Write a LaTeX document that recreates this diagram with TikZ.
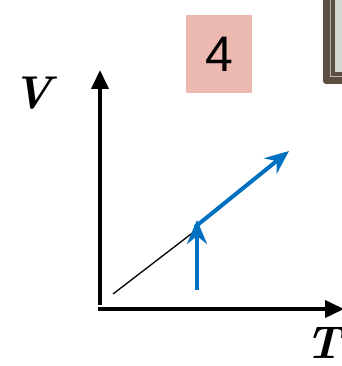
\documentclass[tikz,border=0pt]{standalone}
\usepackage{fontspec}
\usetikzlibrary{arrows.meta}
\newfontfamily\labelsans{Liberation Sans}
\definecolor{pinkbox}{HTML}{EBB9B0}
\definecolor{bluearr}{HTML}{0070C0}
\definecolor{framebrown}{HTML}{5C4E40}
\definecolor{framegray}{HTML}{D3D7D2}
\definecolor{framelight}{HTML}{B8B4AC}
\tikzset{
  axis/.style={line width=3.8pt, -{Triangle[length=19pt,width=17pt]}},
  bluevec/.style={bluearr, line width=4pt, -{Stealth[length=24pt,width=20pt,inset=8pt]}},
  axlabel/.style={font=\bfseries\itshape\fontsize{46}{46}\selectfont, inner sep=0pt},
}
\begin{document}
\begin{tikzpicture}[x=1pt,y=1pt]
\useasboundingbox (0,0) rectangle (341,366);
% frame at top right (cut off)
\fill[framebrown, rounded corners=3pt] (323,282) rectangle (370,375);
\draw[framelight, line width=0.8pt] (330.5,289.5) rectangle (370,375);
\fill[framebrown] (332,291) rectangle (370,375);
\fill[framegray] (335,294) rectangle (370,375);
% pink label box
\node[fill=pinkbox, minimum width=66pt, minimum height=78pt, inner sep=0pt, font=\labelsans\fontsize{50}{50}\selectfont] (num) at (219,312) {4};
% axes
\coordinate (Ytop) at (100,296);
\coordinate (Xend) at (344,57);
\draw[axis] (100,61) -- (Ytop);
\draw[axis] (98,57) -- (Xend);
\node[axlabel] (V) at (32,272.5) {V};
\node[axlabel] (T) at (324,23.5) {T};
% black line
\coordinate (L0) at (113,72);
\coordinate (L1) at (195,135);
\draw[line width=1.3pt] (L0) -- (L1);
% blue arrows
\coordinate (B0) at (197,76);
\coordinate (B1) at (197,146);
\coordinate (B2) at (289,215);
\draw[bluevec] (B0) -- (B1);
\draw[bluevec] (195,139) -- (B2);
\end{tikzpicture}
\end{document}
